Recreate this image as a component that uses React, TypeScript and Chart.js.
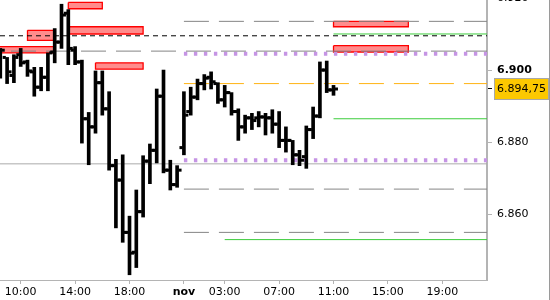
import React, { useEffect, useRef } from 'react';
import { Chart, registerables } from 'chart.js';

Chart.register(...registerables);

// ---- OHLC data (30-minute bars) ----
const opens = [
  6902.75, 6903.5, 6898.5, 6904.25, 6902.25, 6899.5, 6895.25, 6898.0, 6905.0, 6907.75,
  6915.75, 6905.5, 6902.25, 6886.5, 6884.25, 6896.5, 6889.25, 6873.5, 6869.5, 6855.0,
  6849.5, 6860.75, 6874.75, 6877.75, 6892.75, 6872.25, 6868.25, 6878.5, 6888.5, 6892.5,
  6896.25, 6898.0, 6896.25, 6891.75, 6893.75, 6888.5, 6884.25, 6886.75, 6886.75, 6887.0,
  6886.75, 6885.0, 6880.5, 6880.5, 6876.5, 6876.0, 6883.5, 6887.25, 6900.0, 6894.5,
];
const highs = [
  6906.0, 6903.5, 6904.25, 6906.0, 6902.75, 6900.75, 6900.75, 6904.75, 6911.5, 6918.25,
  6916.75, 6906.5, 6902.75, 6888.25, 6899.75, 6899.75, 6894.0, 6875.25, 6876.5, 6859.5,
  6866.75, 6876.25, 6879.5, 6894.75, 6900.0, 6875.0, 6873.5, 6894.0, 6895.25, 6897.5,
  6898.75, 6899.5, 6896.5, 6895.75, 6893.75, 6889.25, 6887.5, 6888.0, 6888.5, 6888.0,
  6889.0, 6888.5, 6884.25, 6880.5, 6877.75, 6884.5, 6889.75, 6902.25, 6902.5, 6895.75,
];
const lows = [
  6897.75, 6896.25, 6896.5, 6901.0, 6898.25, 6892.75, 6894.25, 6894.25, 6902.0, 6906.0,
  6901.5, 6901.5, 6879.75, 6873.75, 6882.5, 6887.5, 6872.25, 6856.25, 6852.25, 6843.25,
  6845.25, 6859.25, 6868.5, 6874.25, 6871.5, 6866.75, 6867.5, 6876.5, 6887.5, 6891.75,
  6894.5, 6894.75, 6890.75, 6889.75, 6887.5, 6880.5, 6882.5, 6883.5, 6884.25, 6882.0,
  6882.5, 6878.5, 6877.25, 6873.75, 6873.5, 6872.75, 6881.0, 6886.75, 6893.75, 6893.0,
];
const closes = [
  6905.5, 6899.5, 6903.5, 6902.0, 6899.75, 6895.25, 6898.0, 6904.75, 6907.75, 6915.25,
  6906.0, 6902.25, 6886.5, 6884.25, 6896.5, 6889.25, 6873.5, 6869.5, 6855.0, 6849.25,
  6860.75, 6874.75, 6877.75, 6892.75, 6872.25, 6868.25, 6872.25, 6887.5, 6892.5, 6896.25,
  6897.75, 6896.75, 6891.75, 6893.75, 6888.5, 6884.25, 6886.75, 6886.0, 6887.0, 6886.75,
  6885.0, 6880.5, 6880.5, 6876.5, 6875.0, 6883.5, 6887.25, 6900.0, 6894.5, 6894.75,
];

// ---- axis ticks ----
const timeTickBars = [3, 11, 19, 27, 33, 41, 49, 57, 65];
const timeTickLabels = ['10:00', '14:00', '18:00', 'nov', '03:00', '07:00', '11:00', '15:00', '19:00'];
const dayChangeBar = 27;
const priceTicks = [6860, 6880, 6900, 6920];
const lastPrice = closes[closes.length - 1];

// ---- axis ranges ----
const X_MIN = -0.044;
const X_MAX = 71.57;
const Y_MIN = 6841.8;
const Y_MAX = 6919.42;

// ---- horizontal levels (value, starting bar) ----
const grayDashLevels = [6913.5, 6905.25, 6867.0, 6855.0];
const grayDashFrom = [27, X_MIN, 27, 27];
const blackDashLevels = [6909.5];
const blackDashFrom = [X_MIN];
const greenLevels = [6910.0, 6886.5, 6853.0];
const greenFrom = [49, 49, 33];
const purpleDotLevels = [6904.5, 6875.0];
const purpleDotFrom = [27, 27];
const orangeDashLevels = [6896.25];
const orangeDashFrom = [27];
const graySolidLevels = [6874.0];
const graySolidFrom = [X_MIN];

// ---- zones (rectangles) ----
const zoneFrom = [-1, 4, 10, 10, 14, 49, 49];
const zoneTo = [8, 8, 15, 21, 21, 60, 60];
const zoneTop = [6906.5, 6911.0, 6918.75, 6912.0, 6902.0, 6913.5, 6906.75];
const zoneBottom = [6904.75, 6908.25, 6917.0, 6910.0, 6900.25, 6912.0, 6905.0];

const FONT = 'DejaVu Sans';
const TICK_OFF = 0.42;

function fmt(v: number): string {
  const int = Math.floor(v + 1e-9);
  const frac = v - int;
  let s = String(int).replace(/\B(?=(\d{3})+(?!\d))/g, '.');
  if (Math.abs(frac) > 1e-6) s += ',' + frac.toFixed(2).slice(2);
  return s;
}

function levelSets(values: number[], from: number[], style: any) {
  const { fullOffset, ...rest } = style;
  return values.map((v, k) => ({
    type: 'line',
    data: [{ x: from[k], y: v }, { x: X_MAX, y: v }],
    pointRadius: 0,
    fill: false,
    tension: 0,
    order: 1,
    ...rest,
    borderDashOffset: from[k] === X_MIN && fullOffset ? fullOffset : 0,
  }));
}

const priceBoxBorder = {
  id: 'priceBoxBorder',
  afterDraw(chart: any) {
    const ys = chart.scales.y;
    const ctx = chart.ctx;
    const y = ys.getPixelForValue(lastPrice);
    ctx.save();
    ctx.font = `11px "${FONT}"`;
    const w = ctx.measureText(fmt(lastPrice)).width;
    const left = Math.round(ys.left + 7) + 0.5;
    ctx.strokeStyle = '#a8a8a8';
    ctx.lineWidth = 1;
    ctx.strokeRect(left, Math.round(y - 10.5) + 0.5, Math.round(w + 5), 21);
    ctx.restore();
  },
};

export default function App() {
  const ref = useRef<HTMLCanvasElement | null>(null);

  useEffect(() => {
    if (!ref.current) return;
    Chart.defaults.font.family = FONT;

    const barData = highs.map((h, i) => ({ x: i, y: [lows[i], h] }));
    const openData = opens.map((o, i) => ({ x: i - TICK_OFF, y: o }));
    const closeData = closes.map((c, i) => ({ x: i + TICK_OFF, y: c }));

    const zoneSets = zoneFrom.map((f, k) => ({
      type: 'line',
      data: [
        { x: f, y: zoneTop[k] },
        { x: zoneTo[k], y: zoneTop[k] },
        { x: zoneTo[k], y: zoneBottom[k] },
        { x: f, y: zoneBottom[k] },
        { x: f, y: zoneTop[k] },
      ],
      borderColor: '#ff0000',
      borderWidth: 1.3,
      backgroundColor: 'rgba(255,0,0,0.45)',
      fill: 'shape',
      pointRadius: 0,
      tension: 0,
      order: 2,
    }));

    const tickStyle = {
      type: 'scatter',
      pointStyle: 'line',
      pointRadius: 1.6,
      pointHoverRadius: 1.6,
      pointBorderWidth: 3,
      pointBorderColor: '#000',
      borderColor: '#000',
      order: 0,
    };

    const datasets: any[] = [
      {
        type: 'bar',
        data: barData,
        backgroundColor: '#000',
        borderWidth: 0,
        barThickness: 3,
        grouped: false,
        order: 0,
      },
      { ...tickStyle, data: openData },
      { ...tickStyle, data: closeData },
      ...levelSets(grayDashLevels, grayDashFrom, { borderColor: '#858585', borderWidth: 1, borderDash: [25, 10], fullOffset: 24 }),
      ...levelSets(blackDashLevels, blackDashFrom, { borderColor: '#000', borderWidth: 1, borderDash: [5, 4] }),
      ...levelSets(greenLevels, greenFrom, { borderColor: '#3ccc3c', borderWidth: 1 }),
      ...levelSets(purpleDotLevels, purpleDotFrom, { borderColor: '#c594e4', borderWidth: 4, borderDash: [3.4, 6.6] }),
      ...levelSets(orangeDashLevels, orangeDashFrom, { borderColor: '#ffb414', borderWidth: 1, borderDash: [25, 10] }),
      ...levelSets(graySolidLevels, graySolidFrom, { borderColor: '#aaaaaa', borderWidth: 1 }),
      ...zoneSets,
    ];

    const chart = new Chart(ref.current, {
      type: 'bar',
      data: { datasets },
      plugins: [priceBoxBorder],
      options: {
        responsive: false,
        animation: false,
        events: [],
        layout: { padding: 0, autoPadding: false },
        plugins: { legend: { display: false }, tooltip: { enabled: false } },
        scales: {
          x: {
            type: 'linear',
            min: X_MIN,
            max: X_MAX,
            offset: false,
            bounds: 'data',
            afterBuildTicks: (s: any) => {
              s.ticks = timeTickBars.map((v) => ({ value: v }));
            },
            afterFit: (s: any) => {
              s.height = 20;
              s.paddingLeft = 0;
              s.paddingRight = 0;
            },
            ticks: {
              autoSkip: false,
              maxRotation: 0,
              minRotation: 0,
              padding: 2,
              color: '#000',
              font: (c: any) => ({
                family: FONT,
                size: 11,
                weight: c.tick && c.tick.value === dayChangeBar ? 'bold' : 'normal',
              }),
              callback: (v: any) => {
                const k = timeTickBars.indexOf(Number(v));
                return k >= 0 ? timeTickLabels[k] : '';
              },
            },
            grid: { drawOnChartArea: false, drawTicks: true, tickLength: 4, color: '#b4b4b4', offset: false },
            border: { display: true, color: '#b4b4b4', width: 1 },
          },
          y: {
            type: 'linear',
            position: 'right',
            min: Y_MIN,
            max: Y_MAX,
            beginAtZero: false,
            afterBuildTicks: (s: any) => {
              s.ticks = [...priceTicks, lastPrice].sort((a, b) => a - b).map((v) => ({ value: v }));
            },
            afterFit: (s: any) => {
              s.width = 62;
              s.paddingTop = 0;
              s.paddingBottom = 0;
            },
            ticks: {
              autoSkip: false,
              padding: 5,
              color: '#000',
              font: (c: any) => ({
                family: FONT,
                size: 11,
                weight: c.tick && c.tick.value % 100 === 0 ? 'bold' : 'normal',
              }),
              callback: (v: any) => fmt(Number(v)),
              showLabelBackdrop: (c: any) => !!(c.tick && c.tick.value === lastPrice),
              backdropColor: '#fcc800',
              backdropPadding: { top: 4, bottom: 4, left: 3, right: 2 },
            },
            grid: {
              drawOnChartArea: false,
              drawTicks: true,
              tickLength: 5,
              tickWidth: 1,
              color: '#b4b4b4',
              tickColor: (c: any) => (c.tick && c.tick.value === lastPrice ? '#000' : '#b4b4b4'),
            },
            border: { display: true, color: '#b4b4b4', width: 2 },
          },
        },
      } as any,
    } as any);

    return () => chart.destroy();
  }, []);

  return (
    <div
      style={{
        position: 'fixed',
        left: 0,
        top: 0,
        width: 550,
        height: 300,
        background: '#fff',
        borderRight: '1px solid #9a9a9a',
        boxSizing: 'border-box',
      }}
    >
      <canvas ref={ref} width={549} height={300} style={{ width: 549, height: 300, display: 'block' }} />
    </div>
  );
}
